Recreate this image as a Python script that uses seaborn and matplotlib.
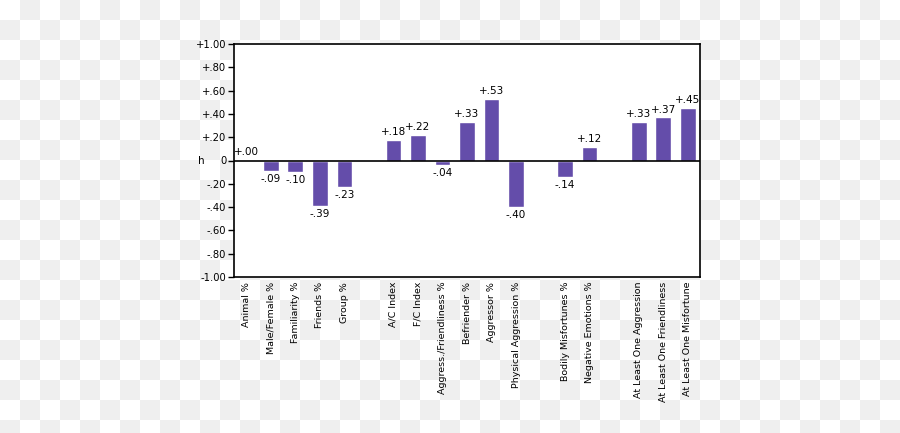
import numpy as np
import pandas as pd
import matplotlib
matplotlib.use("Agg")
import matplotlib.pyplot as plt
import seaborn as sns

# bar groups as they appear left to right
groups = [
    ["Animal %", "Male/Female %", "Familiarity %", "Friends %", "Group %"],
    ["A/C Index", "F/C Index", "Aggress./Friendliness %", "Befriender %",
     "Aggressor %", "Physical Aggression %"],
    ["Bodily Misfortunes %", "Negative Emotions %"],
    ["At Least One Aggression", "At Least One Friendliness", "At Least One Misfortune"],
]
values = [
    [0.004, -0.09, -0.10, -0.39, -0.23],
    [0.18, 0.22, -0.04, 0.33, 0.53, -0.40],
    [-0.14, 0.12],
    [0.33, 0.37, 0.45],
]
yticks = [1.0, 0.8, 0.6, 0.4, 0.2, 0.0, -0.2, -0.4, -0.6, -0.8, -1.0]

bar_color = "#644DAA"

rows = []
order = []
for gi, (names, vals) in enumerate(zip(groups, values)):
    if gi > 0:
        order.append(" " * gi)  # empty slot between groups
    for n, v in zip(names, vals):
        rows.append({"label": n, "h": v})
        order.append(n)
df = pd.DataFrame(rows)


def fmt(v):
    if abs(v) < 1e-9:
        return "0"
    s = f"{abs(v):.2f}"
    if s.startswith("0"):
        s = s[1:]
    return ("+" if v > 0 else "-") + s


sns.set_style("ticks")
plt.rcParams["font.family"] = ["DejaVu Sans"]
plt.rcParams["text.color"] = "black"
plt.rcParams["xtick.color"] = "black"
plt.rcParams["ytick.color"] = "black"
plt.rcParams["axes.labelcolor"] = "black"

W, H = 900, 433
fig = plt.figure(figsize=(9, 4.33), dpi=100)

# checkerboard backdrop
bg = fig.add_axes([0, 0, 1, 1], zorder=-10)
ii, jj = np.indices((22, 45))
checker = np.where((ii + jj) % 2 == 0, 1.0, 0.937)
bg.imshow(checker, cmap="gray", vmin=0, vmax=1, interpolation="nearest",
          extent=(0, 45 * 20, 22 * 20, 0), origin="upper")
bg.set_xlim(0, W)
bg.set_ylim(H, 0)
bg.axis("off")

ax = fig.add_axes([234 / W, 1 - 277 / H, (700 - 234) / W, (277 - 44) / H])
ax.set_facecolor("white")

sns.barplot(data=df, x="label", y="h", order=order, color=bar_color,
            saturation=1, width=0.64, errorbar=None, ax=ax)

for c in ax.containers:
    ax.bar_label(c, fmt=fmt, padding=2, fontsize=7.5, color="black")

ax.axhline(0, color="black", lw=1.2, zorder=3)
ax.set_ylim(-1, 1)
ax.set_xlim(-0.5, len(order) - 0.5)
ax.set_yticks(yticks)
ax.set_yticklabels([fmt(t) for t in yticks], fontsize=7.2)
ax.tick_params(axis="y", length=4, width=1, pad=1.5, color="black")
ax.tick_params(axis="x", length=0, pad=3.5)
ax.set_xticks(range(len(order)))
ax.set_xticklabels(order, rotation=90, fontsize=6.8, va="top", ha="center")
ax.set_xlabel("")
ax.set_ylabel("h", rotation=0, fontsize=7.5, va="center", ha="center")
ax.yaxis.set_label_coords(-0.071, 0.5)
for s in ax.spines.values():
    s.set_visible(True)
    s.set_color("black")
    s.set_linewidth(1.2)

fig.savefig("out.png", dpi=100)
